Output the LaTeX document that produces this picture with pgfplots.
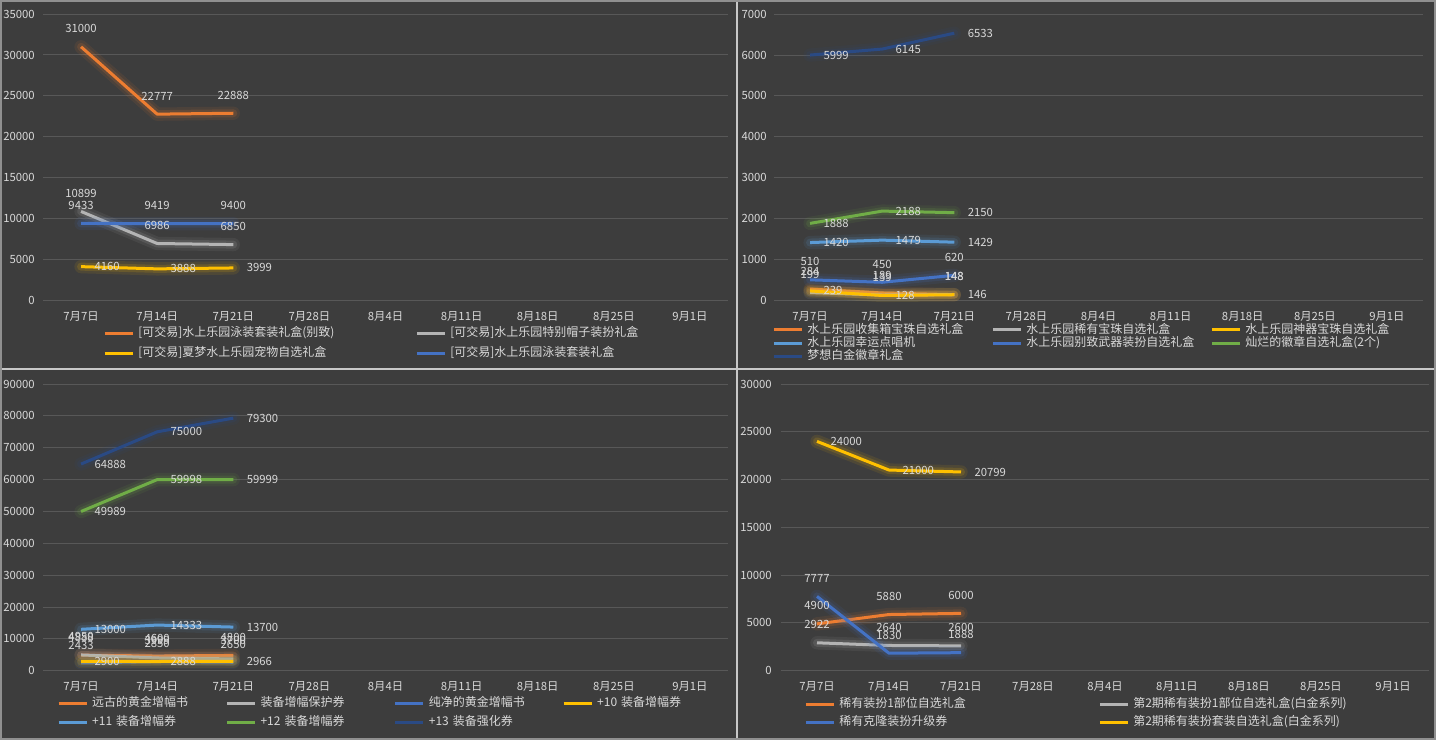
\documentclass[border=0pt]{standalone}
\usepackage{fontspec}
\setmainfont{Noto Sans CJK SC}
\usepackage{pgfplots}
\pgfplotsset{compat=1.18}

\definecolor{bg}{HTML}{3D3D3D}
\definecolor{gridc}{HTML}{585858}
\definecolor{txt}{HTML}{D9D9D9}
\definecolor{sepc}{HTML}{C8C8C8}
\definecolor{ora}{HTML}{ED7D31}
\definecolor{gry}{HTML}{B4B4B4}
\definecolor{ylw}{HTML}{FFC000}
\definecolor{blu}{HTML}{4472C4}
\definecolor{lbl}{HTML}{5B9BD5}
\definecolor{grn}{HTML}{70AD47}
\definecolor{nvy}{HTML}{2A4A84}

\pgfplotsset{
  panel/.style={
    scale only axis, clip=false, anchor=south west,
    height=215pt,
    xmin=-3.5, xmax=59.5, ymin=0,
    xtick={0,7,...,56},
    xticklabels={7月7日,7月14日,7月21日,7月28日,8月4日,8月11日,8月18日,8月25日,9月1日},
    axis line style={draw=none},
    tick style={draw=none},
    ymajorgrids,
    major grid style={draw=gridc, line width=0.75pt},
    tick label style={font=\fontsize{8.5}{10}\selectfont, text=txt, inner sep=0pt},
    xticklabel style={anchor=center, yshift=-11.5pt},
    yticklabel style={anchor=east, /pgf/number format/fixed,
      /pgf/number format/1000 sep={}, /pgf/number format/assume math mode=true},
    scaled y ticks=false,
    legend cell align=left,
    legend style={draw=none, fill=none, anchor=north west, inner sep=0pt,
      text=txt, font=\fontsize{9}{10}\selectfont,
      nodes={inner sep=0pt, text height=7pt, text depth=2pt},
      /tikz/every odd column/.append style={column sep=3pt},
      /tikz/every even column/.append style={column sep=0pt}},
    legend image code/.code={\draw[##1, line width=2.25pt] (0pt,0pt) -- (21pt,0pt);},
  },
  glow/.style={
    preaction={draw=#1, line width=10pt, draw opacity=0.09, line cap=round, line join=round},
    preaction={draw=#1, line width=6pt, draw opacity=0.15, line cap=round, line join=round}},
  ser/.style={#1, line width=2.25pt, line join=round, mark=none, forget plot, glow=#1},
  lab/.style={nodes near coords={\pgfplotspointmeta}, point meta=explicit symbolic,
    every node near coord/.style={font=\fontsize{8.5}{10}\selectfont, text=txt, inner sep=0pt, #1}},
  labA/.style={lab={anchor=center, yshift=#1}},
  labA/.default=13.5pt,
  labR/.style={lab={anchor=west, xshift=9pt}},
}

\begin{document}
\begin{tikzpicture}
\fill[bg] (0pt,0pt) rectangle (1077pt,-555pt);

% top left
\begin{axis}[panel, at={(32.25pt,-225.525pt)}, width=513.75pt,
  ymax=35000, ytick={0,5000,...,35000}, yticklabel style={xshift=-6pt},
  legend columns=2,
  legend style={at={(0.0876,-0.0917)}, row sep=6pt, nodes={text width=207.75pt}}]
\addlegendimage{ora}\addlegendentry{[可交易]水上乐园泳装套装礼盒(别致)}
\addlegendimage{gry}\addlegendentry{[可交易]水上乐园特别帽子装扮礼盒}
\addlegendimage{ylw}\addlegendentry{[可交易]夏梦水上乐园宠物自选礼盒}
\addlegendimage{blu}\addlegendentry{[可交易]水上乐园泳装套装礼盒}
\addplot[ser=ora, labA] coordinates {(0,31000)[31000] (7,22777)[22777] (14,22888)[22888]};
\addplot[ser=gry, labA] coordinates {(0,10899)[10899] (7,6986)[6986] (14,6850)[6850]};
\addplot[ser=ylw, labR] coordinates {(0,4160)[4160] (7,3888)[3888] (14,3999)[3999]};
\addplot[ser=blu, labA] coordinates {(0,9433)[9433] (7,9419)[9419] (14,9400)[9400]};
\end{axis}

% top right
\begin{axis}[panel, at={(580.5pt,-225.525pt)}, width=486.75pt,
  ymax=7000, ytick={0,1000,...,7000}, yticklabel style={xshift=-5.25pt},
  legend columns=3,
  legend style={at={(-0.003,-0.0795)}, row sep=1pt, nodes={text width=138pt}}]
\addlegendimage{ora}\addlegendentry{水上乐园收集箱宝珠自选礼盒}
\addlegendimage{gry}\addlegendentry{水上乐园稀有宝珠自选礼盒}
\addlegendimage{ylw}\addlegendentry{水上乐园神器宝珠自选礼盒}
\addlegendimage{lbl}\addlegendentry{水上乐园幸运点唱机}
\addlegendimage{blu}\addlegendentry{水上乐园别致武器装扮自选礼盒}
\addlegendimage{grn}\addlegendentry{灿烂的徽章自选礼盒(2个)}
\addlegendimage{nvy}\addlegendentry{梦想白金徽章礼盒}
\addplot[ser=ora, labA] coordinates {(0,284)[284] (7,189)[189] (14,148)[148]};
\addplot[ser=gry, labA] coordinates {(0,199)[199] (7,139)[139] (14,148)[148]};
\addplot[ser=ylw, labR] coordinates {(0,239)[239] (7,128)[128] (14,146)[146]};
\addplot[ser=lbl, labR] coordinates {(0,1420)[1420] (7,1479)[1479] (14,1429)[1429]};
\addplot[ser=blu, labA] coordinates {(0,510)[510] (7,450)[450] (14,620)[620]};
\addplot[ser=grn, labR] coordinates {(0,1888)[1888] (7,2188)[2188] (14,2150)[2150]};
\addplot[ser=nvy, labR] coordinates {(0,5999)[5999] (7,6145)[6145] (14,6533)[6533]};
\end{axis}

% bottom left
\begin{axis}[panel, at={(32.25pt,-503.025pt)}, width=513.75pt,
  ymax=90000, ytick={0,10000,...,90000}, yticklabel style={xshift=-6pt},
  legend columns=4,
  legend style={at={(0.0204,-0.0917)}, row sep=5.25pt, nodes={text width=100pt}}]
\addlegendimage{ora}\addlegendentry{远古的黄金增幅书}
\addlegendimage{gry}\addlegendentry{装备增幅保护券}
\addlegendimage{blu}\addlegendentry{纯净的黄金增幅书}
\addlegendimage{ylw}\addlegendentry{+10 装备增幅券}
\addlegendimage{lbl}\addlegendentry{+11 装备增幅券}
\addlegendimage{grn}\addlegendentry{+12 装备增幅券}
\addlegendimage{nvy}\addlegendentry{+13 装备强化券}
\addplot[ser=ora, labA] coordinates {(0,4888)[4888] (7,4600)[4600] (14,4800)[4800]};
\addplot[ser=gry, labA] coordinates {(0,4950)[4950] (7,3999)[3999] (14,3700)[3700]};
\addplot[ser=blu, labA] coordinates {(0,2433)[2433] (7,2850)[2850] (14,2650)[2650]};
\addplot[ser=ylw, labR] coordinates {(0,2900)[2900] (7,2888)[2888] (14,2966)[2966]};
\addplot[ser=lbl, labR] coordinates {(0,13000)[13000] (7,14333)[14333] (14,13700)[13700]};
\addplot[ser=grn, labR] coordinates {(0,49989)[49989] (7,59998)[59998] (14,59999)[59999]};
\addplot[ser=nvy, labR] coordinates {(0,64888)[64888] (7,75000)[75000] (14,79300)[79300]};
\end{axis}

% bottom right
\begin{axis}[panel, at={(585.75pt,-503.025pt)}, width=486pt,
  ymax=30000, ytick={0,5000,...,30000}, yticklabel style={xshift=-6.75pt},
  legend columns=2,
  legend style={at={(0.0355,-0.0952)}, row sep=4.5pt, nodes={text width=194.25pt}}]
\addlegendimage{ora}\addlegendentry{稀有装扮1部位自选礼盒}
\addlegendimage{gry}\addlegendentry{第2期稀有装扮1部位自选礼盒(白金系列)}
\addlegendimage{blu}\addlegendentry{稀有克隆装扮升级券}
\addlegendimage{ylw}\addlegendentry{第2期稀有装扮套装自选礼盒(白金系列)}
\addplot[ser=ora, labA] coordinates {(0,4900)[4900] (7,5880)[5880] (14,6000)[6000]};
\addplot[ser=gry, labA] coordinates {(0,2922)[2922] (7,2640)[2640] (14,2600)[2600]};
\addplot[ser=blu, labA] coordinates {(0,7777)[7777] (7,1830)[1830] (14,1888)[1888]};
\addplot[ser=ylw, labR] coordinates {(0,24000)[24000] (7,21000)[21000] (14,20799)[20799]};
\end{axis}

\draw[sepc, line width=1.5pt] (552.75pt,0pt) -- (552.75pt,-555pt);
\draw[sepc, line width=1.5pt] (0pt,-276.75pt) -- (1077pt,-276.75pt);
\draw[sepc!60!bg, line width=1.5pt] (0.75pt,-0.75pt) rectangle (1076.25pt,-554.25pt);
\pgfresetboundingbox
\path[use as bounding box] (0pt,0pt) rectangle (1077pt,-555pt);
\end{tikzpicture}
\end{document}
